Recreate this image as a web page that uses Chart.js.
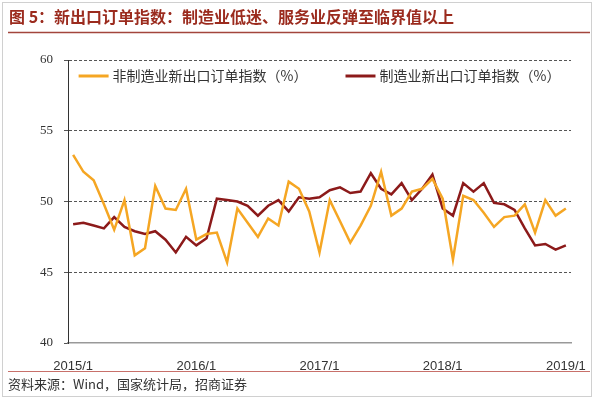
<!DOCTYPE html>
<html>
<head>
<meta charset="utf-8">
<script src="https://cdn.jsdelivr.net/npm/chart.js@4"></script>
<style>
  html, body { margin: 0; padding: 0; background: #fff; }
  #wrap { position: relative; width: 598px; height: 399px; }
</style>
</head>
<body>
<div id="wrap"><canvas id="chart" width="598" height="399"></canvas></div>
<script>
// Monthly categories 2015/1 .. 2019/1
const months = [];
for (let y = 2015; y <= 2019; y++) {
  for (let m = 1; m <= 12; m++) {
    if (y === 2019 && m > 1) break;
    months.push(y + '/' + m);
  }
}

// 非制造业新出口订单指数（%）
const nonManufacturing = [
  53.3, 52.1, 51.5, 49.8, 48.0, 50.1, 46.2, 46.7, 51.1, 49.5, 49.4, 50.9,
  47.3, 47.7, 47.8, 45.7, 49.5, 48.5, 47.5, 48.8, 48.3, 51.4, 50.9, 49.3,
  46.4, 50.1, 48.6, 47.1, 48.3, 49.7, 52.1, 49.0, 49.5, 50.7, 50.9, 51.6,
  50.2, 45.9, 50.4, 50.1, 49.2, 48.2, 48.9, 49.0, 49.8, 47.8, 50.1, 49.0,
  49.5
];

// 制造业新出口订单指数（%）
const manufacturing = [
  48.4, 48.5, 48.3, 48.1, 48.9, 48.2, 47.9, 47.7, 47.9, 47.3, 46.4, 47.5,
  46.9, 47.4, 50.2, 50.1, 50.0, 49.7, 49.0, 49.7, 50.1, 49.3, 50.3, 50.2,
  50.3, 50.8, 51.0, 50.6, 50.7, 52.0, 50.9, 50.5, 51.3, 50.1, 50.9, 51.9,
  49.5, 49.0, 51.3, 50.7, 51.3, 49.9, 49.8, 49.4, 48.1, 46.9, 47.0, 46.6,
  46.9
];

const yTicks = [40, 45, 50, 55, 60];

const ORANGE = '#F5A623';
const DARKRED = '#8C1A1A';
const CJK = '"Noto Sans CJK SC", sans-serif';

// title, rules, source line and frame
const decor = {
  id: 'decor',
  beforeDraw(chart) {
    const ctx = chart.ctx;
    ctx.save();
    ctx.fillStyle = '#fff';
    ctx.fillRect(0, 0, chart.width, chart.height);
    ctx.restore();
  },
  afterDraw(chart) {
    const ctx = chart.ctx;
    ctx.save();
    ctx.strokeStyle = '#d0d0d0';
    ctx.lineWidth = 1;
    ctx.strokeRect(2.5, 2.5, 589, 394);

    ctx.fillStyle = '#9B2B1E';
    ctx.font = 'bold 16px ' + CJK;
    ctx.textBaseline = 'middle';
    ctx.textAlign = 'left';
    ctx.fillText('图 5：新出口订单指数：制造业低迷、服务业反弹至临界值以上', 9, 17);

    ctx.strokeStyle = '#A3453C';
    ctx.lineWidth = 1.5;
    ctx.beginPath();
    ctx.moveTo(8, 32.5);
    ctx.lineTo(590, 32.5);
    ctx.stroke();

    ctx.strokeStyle = '#C8706A';
    ctx.lineWidth = 1;
    ctx.beginPath();
    ctx.moveTo(8, 371.5);
    ctx.lineTo(590, 371.5);
    ctx.stroke();

    ctx.fillStyle = '#333';
    ctx.font = '13px ' + CJK;
    ctx.fillText('资料来源：Wind，国家统计局，招商证券', 8, 384);
    ctx.restore();
  }
};

// legend drawn inside the plot, one row, centred
const insideLegend = {
  id: 'insideLegend',
  afterDatasetsDraw(chart) {
    const ctx = chart.ctx;
    const area = chart.chartArea;
    const sample = 30, gapText = 4, gapItems = 38;
    ctx.save();
    ctx.font = '14px ' + CJK;
    const items = chart.data.datasets.map(ds => ({
      text: ds.label, color: ds.borderColor,
      w: sample + gapText + ctx.measureText(ds.label).width
    }));
    const total = items.reduce((s, it) => s + it.w, 0) + gapItems * (items.length - 1);
    let x = (area.left + area.right) / 2 - total / 2;
    const y = area.top + 16;
    ctx.textBaseline = 'middle';
    ctx.textAlign = 'left';
    items.forEach(it => {
      ctx.strokeStyle = it.color;
      ctx.lineWidth = 3;
      ctx.beginPath();
      ctx.moveTo(x, y);
      ctx.lineTo(x + sample, y);
      ctx.stroke();
      ctx.fillStyle = '#333';
      ctx.fillText(it.text, x + sample + gapText, y);
      x += it.w + gapItems;
    });
    ctx.restore();
  }
};

new Chart(document.getElementById('chart'), {
  type: 'line',
  data: {
    labels: months,
    datasets: [
      {
        label: '非制造业新出口订单指数（%）',
        data: nonManufacturing,
        borderColor: ORANGE,
        backgroundColor: ORANGE,
        borderWidth: 2.5,
        pointRadius: 0,
        tension: 0
      },
      {
        label: '制造业新出口订单指数（%）',
        data: manufacturing,
        borderColor: DARKRED,
        backgroundColor: DARKRED,
        borderWidth: 2.5,
        pointRadius: 0,
        tension: 0
      }
    ]
  },
  options: {
    responsive: false,
    animation: false,
    layout: { padding: { top: 60, left: 7, right: 27, bottom: 0 } },
    plugins: {
      tooltip: { enabled: false },
      legend: { display: false }
    },
    scales: {
      x: {
        offset: true,
        grid: { display: false },
        border: { display: true, color: '#999', width: 1.5 },
        afterFit(scale) { scale.height = 56; },
        ticks: {
          autoSkip: false,
          maxRotation: 0,
          padding: 8,
          color: '#333',
          font: { size: 13, family: '"Liberation Sans", Arial, sans-serif' },
          callback(value, index) {
            return index % 12 === 0 ? months[index] : '';
          }
        }
      },
      y: {
        min: 40,
        max: 60,
        afterFit(scale) { scale.width = 61; },
        afterBuildTicks(scale) { scale.ticks = yTicks.map(v => ({ value: v })); },
        // in v4 border.dash applies to the grid lines
        border: { display: true, color: '#333', width: 1, dash: [3, 2] },
        grid: {
          color: ctx => (ctx.tick && ctx.tick.value === 40) ? 'rgba(0,0,0,0)' : '#555',
          tickLength: 4,
          tickColor: '#555'
        },
        ticks: {
          padding: 11,
          color: '#333',
          font: { size: 13, family: '"Liberation Serif", "Times New Roman", serif' }
        }
      }
    }
  },
  plugins: [decor, insideLegend]
});
</script>
</body>
</html>
